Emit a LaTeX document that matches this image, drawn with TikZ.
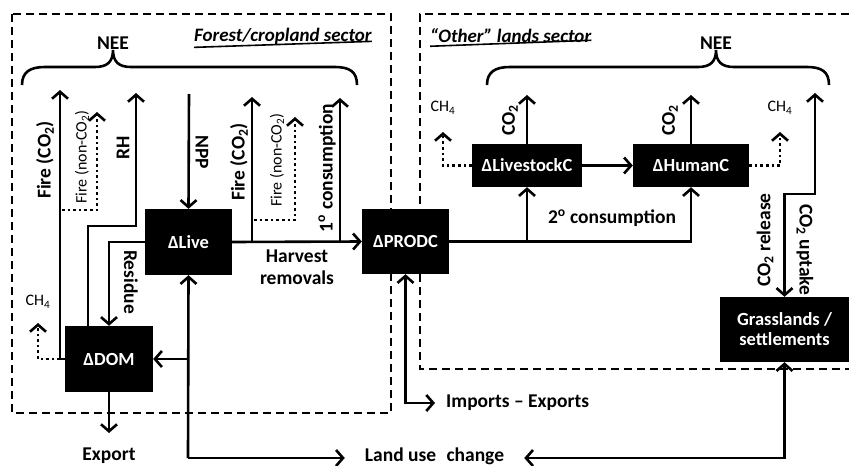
\documentclass[tikz,border=0pt]{standalone}
\usepackage{fontspec}
\setmainfont{Carlito}
\usetikzlibrary{arrows.meta}
\begin{document}
\begin{tikzpicture}[x=1pt,y=-1pt,
  >={Straight Barb[length=7pt,width=16pt]},
  box/.style={fill=black,text=white,font=\fontsize{18.5}{21}\selectfont\bfseries,inner sep=0pt,align=center},
  lab/.style={font=\fontsize{19.5}{22}\selectfont\bfseries,inner sep=0pt,align=center},
  smalllab/.style={font=\fontsize{16}{18}\selectfont,inner sep=0pt},
  head/.style={font=\fontsize{19}{22}\selectfont\bfseries\itshape,inner sep=0pt},
  flow/.style={line width=2.6pt},
  dotflow/.style={line width=2.6pt,dash pattern=on 2.6pt off 3pt},
  frame/.style={line width=2.4pt,dash pattern=on 8pt off 5pt},
  bracestyle/.style={line width=2.6pt,line join=miter}]
\useasboundingbox (0,0) rectangle (849,466);

% sector frames
\draw[frame] (12,14) rectangle (391,413);
\draw[frame] (849,14) -- (420,14) -- (420,369) -- (849,369);

% headings
\node[head,anchor=west] (hfor) at (194,36) {Forest/cropland sector};
\draw[line width=1.6pt] (hfor.south west) ++(0,3) -- ([yshift=3pt]hfor.south east);
\node[head,anchor=west] (hoth) at (430,36) {“Other” lands sector};
\draw[line width=1.6pt] (hoth.south west) ++(0,3) -- ([yshift=3pt]hoth.south east);

% NEE braces
\draw[bracestyle] (22,85) .. controls (22,72) and (30,67) .. (45,67) -- (95,67)
  .. controls (107,67) and (113,62) .. (113,50)
  .. controls (113,62) and (119,67) .. (131,67) -- (335,67)
  .. controls (350,67) and (357,72) .. (357,85);
\node[lab] (nee1) at (113,43) {NEE};
\draw[bracestyle] (487,85) .. controls (487,72) and (495,67) .. (510,67) -- (698,67)
  .. controls (710,67) and (716,62) .. (716,50)
  .. controls (716,62) and (722,67) .. (734,67) -- (807,67)
  .. controls (822,67) and (829,72) .. (829,85);
\node[lab] (nee2) at (716,43) {NEE};

% boxes
\node[box,minimum width=87pt,minimum height=66pt] (live) at (188.5,242) {ΔLive};
\node[box,minimum width=87pt,minimum height=65pt] (prod) at (405.5,241.5) {ΔPRODC};
\node[box,minimum width=88pt,minimum height=66pt] (dom) at (109,359) {ΔDOM};
\node[box,minimum width=110pt,minimum height=43pt] (lc) at (527,165.5) {ΔLivestockC};
\node[box,minimum width=116pt,minimum height=43pt] (hc) at (691,165.5) {ΔHumanC};
\node[box,minimum width=129pt,minimum height=65pt] (grass) at (784.5,329.5) {Grasslands /\\[-1pt]settlements};

% coordinates for free ends
\coordinate (fireAtop) at (60,90);
\coordinate (fireAbase) at (60,359);
\coordinate (ch4Ltip) at (38,323);
\coordinate (fnaA) at (62,210);
\coordinate (fnaAtop) at (97,112);
\coordinate (rhA) at (88,226);
\coordinate (rhB) at (136,226);
\coordinate (rhtop) at (136,93);
\coordinate (npptop) at (189,94);
\coordinate (fireBbase) at (252,242);
\coordinate (fireBtop) at (252,97);
\coordinate (fnaB) at (254,220);
\coordinate (fnaBtop) at (295,117);
\coordinate (consbase) at (340,242);
\coordinate (constop) at (340,98);
\coordinate (exporttip) at (109,433);
\coordinate (lucL) at (188,458);
\coordinate (lctop) at (527,95);
\coordinate (hctop) at (691,95);
\coordinate (ch4a) at (443,132);
\coordinate (ch4b) at (780,132);
\coordinate (co2kink) at (815,194);
\coordinate (co2top) at (815,93);

% text labels
\node[lab,rotate=90] (lfireA) at (45,160) {Fire (CO\textsubscript{2})};
\node[smalllab,rotate=90] (lfnaA) at (82,157) {Fire (non-CO\textsubscript{2})};
\node[lab,rotate=90] (lrh) at (123,148) {RH};
\node[lab,rotate=-90] (lnpp) at (202,152) {NPP};
\node[lab,rotate=90] (lfireB) at (239,162) {Fire (CO\textsubscript{2})};
\node[smalllab,rotate=90] (lfnaB) at (277,160) {Fire (non-CO\textsubscript{2})};
\node[lab,rotate=90] (lcons1) at (327,168) {1\textsuperscript{o} consumption};
\node[lab] (lharv) at (297,267) {Harvest\\removals};
\node[lab,rotate=-90] (lres) at (131,282) {Residue};
\node[smalllab] (lch4L) at (38,302) {CH\textsubscript{4}};
\node[lab] (lexport) at (109,456) {Export};
\node[lab,inner xsep=20pt] (luc) at (434.5,456) {Land use\hspace{0.3em} change};
\node[lab,anchor=west] (limp) at (446,403) {Imports – Exports};
\node[lab,rotate=90] (lco2a) at (510,120) {CO\textsubscript{2}};
\node[lab,rotate=90] (lco2b) at (670,120) {CO\textsubscript{2}};
\node[smalllab] (lch4a) at (443,108) {CH\textsubscript{4}};
\node[smalllab] (lch4b) at (780,108) {CH\textsubscript{4}};
\node[lab] (lcons2) at (612,218) {2\textsuperscript{o} consumption};
\node[lab,rotate=90] (lrel) at (765,240) {CO\textsubscript{2} release};
\node[lab,rotate=-90] (lupt) at (805,250) {CO\textsubscript{2} uptake};

% forest/cropland flows
\draw[flow,->] (dom.west) -| (fireAtop);
\draw[dotflow,->] (fireAbase) -| (ch4Ltip);
\draw[dotflow,->] (fnaA) -| (fnaAtop);
\draw[flow,->] (dom.north -| rhA) -- (rhA) -- (rhB) -- (rhtop);
\draw[flow,->] (npptop) -- (live.north);
\draw[flow,->] (live.east) -- (prod.west);
\draw[flow,->] (fireBbase) -- (fireBtop);
\draw[dotflow,->] (fnaB) -| (fnaBtop);
\draw[flow,->] (consbase) -- (constop);
\draw[flow,->] (live.west) -| (dom.north);
\draw[flow,->] (dom.south) -- (exporttip);
\draw[flow,->] (lucL) -- (live.south);
\draw[flow,->] (live.south |- dom.east) -- (dom.east);
\draw[flow,->] (lucL) -- (luc.west |- lucL);

% products and other lands flows
\draw[flow,<->] (prod.south) |- ([xshift=-11pt]limp.west);
\draw[flow,->] (prod.east) -| (hc.south);
\draw[flow,->] (lc.south |- prod.east) -- (lc.south);
\draw[flow,->] (lc.north) -- (lctop);
\draw[flow,->] (hc.north) -- (hctop);
\draw[flow,->] (lc.east) -- (hc.west);
\draw[dotflow,->] (lc.west) -| (ch4a);
\draw[dotflow,->] (hc.east) -| (ch4b);
\draw[flow,<->] (co2top) -- (co2kink) -| (grass.north);
\draw[flow,<->] (luc.east |- lucL) -| (grass.south);
\end{tikzpicture}
\end{document}
